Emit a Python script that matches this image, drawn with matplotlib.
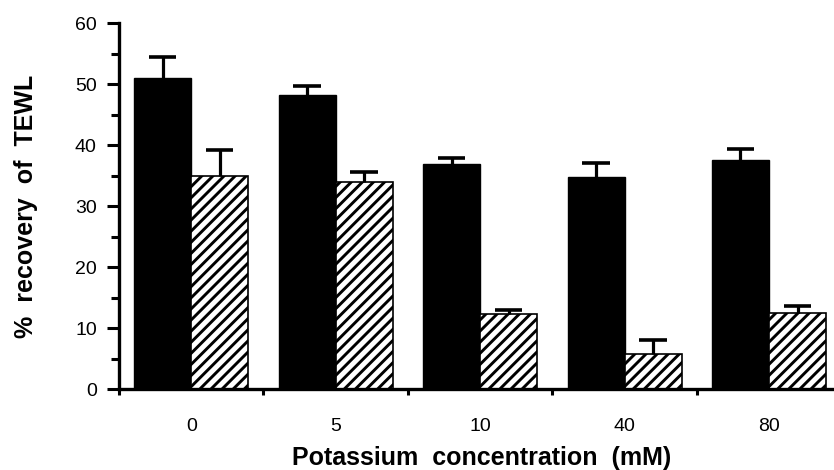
import matplotlib
matplotlib.use('Agg')
from matplotlib import pyplot as plt
from matplotlib.ticker import MultipleLocator
import numpy as np

# potassium concentrations (mM)
concentrations = ['0', '5', '10', '40', '80']
# % recovery of TEWL, solid bars and hatched bars, with upper error (SEM)
solid_values = [51.0, 48.2, 36.9, 34.8, 37.6]
solid_errors = [3.5, 1.5, 1.0, 2.3, 1.8]
hatched_values = [35.0, 34.0, 12.3, 5.7, 12.4]
hatched_errors = [4.2, 1.6, 0.7, 2.3, 1.2]

plt.rcParams['font.family'] = ['Liberation Sans', 'DejaVu Sans']
plt.rcParams['hatch.linewidth'] = 2.1
plt.rcParams['hatch.color'] = 'black'

fig = plt.figure(figsize=(8.34, 4.70), dpi=100)
ax = fig.add_axes([0.1427, 0.1723, 1 - 0.1427, 0.7787])

x = np.arange(len(concentrations))
width = 0.395
solid_x = x - width / 2
hatched_x = x + width / 2

ax.bar(solid_x, solid_values, width, color='black', edgecolor='black', lw=1)
ax.bar(hatched_x, hatched_values, width, color='white', edgecolor='black', lw=1.2,
       hatch='///')


def upper_error(ax, xs, values, errors, cap=0.095):
    tops = np.add(values, errors)
    ax.vlines(xs, values, tops, color='black', lw=2.3)
    ax.hlines(tops, xs - cap, xs + cap, color='black', lw=2.6)


upper_error(ax, solid_x, solid_values, solid_errors)
upper_error(ax, hatched_x, hatched_values, hatched_errors)

# axes and ticks
ax.set_ylim(0, 60)
ax.set_xlim(-0.5, 4.45)
ax.spines['top'].set_visible(False)
ax.spines['right'].set_visible(False)
ax.spines['left'].set_linewidth(2.4)
ax.spines['bottom'].set_linewidth(2.4)

ax.yaxis.set_major_locator(MultipleLocator(10))
ax.yaxis.set_minor_locator(MultipleLocator(5))
ax.tick_params(axis='y', which='major', direction='out', length=9, width=2.2,
               labelsize=14, pad=7)
ax.tick_params(axis='y', which='minor', direction='out', length=5.5, width=2.2)

ax.set_xticks(x)
ax.set_xticklabels(concentrations, fontsize=14)
ax.set_xticks(np.arange(-0.5, 4.0, 1.0), minor=True)
ax.tick_params(axis='x', which='major', length=0, pad=21)
ax.tick_params(axis='x', which='minor', direction='out', length=4, width=2.2)

ax.set_xlabel('Potassium  concentration  (mM)', fontsize=18, fontweight='bold', va='center')
ax.xaxis.set_label_coords(0.507, -0.189)
ax.set_ylabel('%  recovery  of  TEWL', fontsize=18, fontweight='bold', va='center')
ax.yaxis.set_label_coords(-0.130, 0.5)

plt.savefig('out.png', dpi=100)
plt.close()
